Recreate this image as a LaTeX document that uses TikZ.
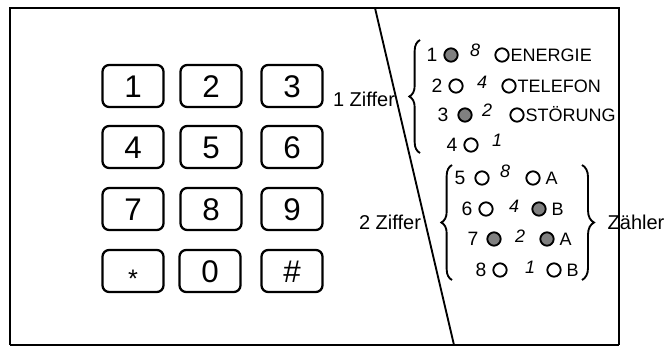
\documentclass[tikz,border=0pt]{standalone}
\usepackage{fontspec}
\setmainfont{Liberation Sans}
\usetikzlibrary{positioning, decorations.pathreplacing}
\definecolor{ledgrey}{HTML}{808080}
\tikzset{
  every picture/.style={line width=1.7pt},
  key/.style={draw, rounded corners=5pt, minimum width=45.75pt, minimum height=31.5pt, inner sep=0pt,
    text height=16.8pt, text depth=0pt, font=\fontsize{23.5}{25}\selectfont},
  led/.style={circle, draw, line width=1.4pt, minimum size=10pt, inner sep=0pt, fill=white},
  ledon/.style={led, fill=ledgrey},
  num/.style={inner sep=0pt, text height=10.4pt, text depth=0pt, font=\fontsize{14.5}{16}\selectfont},
  weight/.style={inner sep=0pt, text height=9.7pt, text depth=0pt, font=\itshape\fontsize{13.5}{15}\selectfont},
  tag/.style={inner sep=0pt, text height=9.7pt, text depth=0pt, font=\fontsize{13.5}{15}\selectfont},
  note/.style={inner sep=0pt, text height=10.7pt, text depth=0pt, font=\fontsize{15}{17}\selectfont},
  curly/.style={decorate, decoration={brace, amplitude=#1}, line width=1.4pt},
  curly/.default=8pt,
}

\begin{document}
\begin{tikzpicture}[x=0.75pt, y=-0.75pt]
  \useasboundingbox (0,0) rectangle (671,347);
  % housing and cut line
  \draw[line width=2pt] (10,345) -- (10,8) -- (619,8) -- (619,345);
  \draw[line width=0.9pt] (10,345) -- (619,345);
  \draw[line width=1.4pt] (375,8) -- (454,345);

  % keypad
  \node[key] (k1) at (133,86) {1};
  \node[key] (k2) at (211,86) {2};
  \node[key] (k3) at (292,86) {3};
  \node[key] (k4) at (133,147) {4};
  \node[key] (k5) at (211,147) {5};
  \node[key] (k6) at (292,147) {6};
  \node[key] (k7) at (133,209) {7};
  \node[key] (k8) at (211,209) {8};
  \node[key] (k9) at (292,209) {9};
  \node[key] (kstar) at (133,271) {\raisebox{-4pt}{\fontsize{19}{19}\selectfont *}};
  \node[key] (k0) at (210,271) {0};
  \node[key] (khash) at (292,271) {\#};

  % first digit: status lamps
  \node[num] (d1) at (432,55) {1};  \node[ledon] (l1) at (451,55) {};
  \node[weight] (w1) at (475,50) {8}; \node[led] (s1) at (502,55) {};
  \node[tag, right=0pt of s1] (t1) {ENERGIE};
  \node[num] (d2) at (437,86) {2};  \node[led] (l2) at (456,86) {};
  \node[weight] (w2) at (482,82) {4}; \node[led] (s2) at (509,86) {};
  \node[tag, right=0pt of s2] (t2) {TELEFON};
  \node[num] (d3) at (443,115) {3}; \node[ledon] (l3) at (465,115) {};
  \node[weight] (w3) at (487,110) {2}; \node[led] (s3) at (517,115) {};
  \node[tag, right=0pt of s3] (t3) {STÖRUNG};
  \node[num] (d4) at (452,145) {4}; \node[led] (l4) at (471,145) {};
  \node[weight] (w4) at (497,140) {1};

  % second digit: counter lamps
  \node[num] (d5) at (460,178) {5}; \node[led] (l5) at (482,178) {};
  \node[weight] (w5) at (505,171) {8}; \node[led] (m5) at (533,178) {};
  \node[tag, right=3pt of m5] (c5) {A};
  \node[num] (d6) at (467,209) {6}; \node[led] (l6) at (486,209) {};
  \node[weight] (w6) at (514,206) {4}; \node[ledon] (m6) at (539,209) {};
  \node[tag, right=3pt of m6] (c6) {B};
  \node[num] (d7) at (473,239) {7}; \node[ledon] (l7) at (494,239) {};
  \node[weight] (w7) at (520,236) {2}; \node[ledon] (m7) at (547,239) {};
  \node[tag, right=3pt of m7] (c7) {A};
  \node[num] (d8) at (481,270) {8}; \node[led] (l8) at (500,270) {};
  \node[weight] (w8) at (530,267) {1}; \node[led] (m8) at (554,270) {};
  \node[tag, right=3pt of m8] (c8) {B};

  % braces and captions
  \coordinate (b1top) at (420,40);  \coordinate (b1bot) at (420,153);
  \coordinate (b2top) at (452,165); \coordinate (b2bot) at (452,280);
  \coordinate (b3top) at (582,165); \coordinate (b3bot) at (582,280);
  \draw[curly] (b1bot) -- (b1top);
  \draw[curly] (b2bot) -- (b2top);
  \draw[curly=9pt] (b3top) -- (b3bot);
  \node[note] (z1) at (364,99) {1 Ziffer};
  \node[note] (z2) at (390,222) {2 Ziffer};
  \node[note] (zc) at (636,222) {Zähler};
\end{tikzpicture}
\end{document}
